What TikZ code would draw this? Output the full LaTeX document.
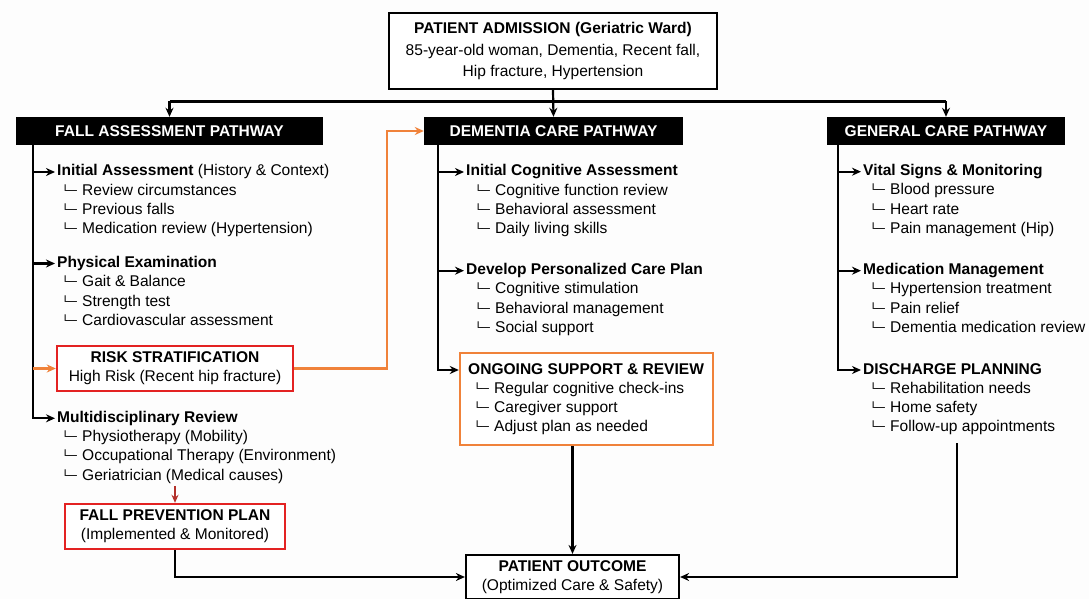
\documentclass[tikz,border=0pt]{standalone}
\usepackage{fontspec}
\setmainfont{Liberation Sans}
\newfontfamily\cornerfont{DejaVu Sans}
\usetikzlibrary{arrows.meta}
\definecolor{boxred}{HTML}{E32222}
\definecolor{linkorange}{HTML}{F0823A}
\definecolor{darkred}{HTML}{B3302A}
\definecolor{paper}{HTML}{FDFDFD}

% tree corner in front of each sub-item, fixed advance so the text lines up
\newcommand{\subcorner}{\makebox[17bp][l]{\kern-3.9bp\raisebox{1bp}{\scalebox{1}[0.8]{\cornerfont\fontsize{13}{13}\selectfont └─}}}}

\tikzset{
  every node/.style={font=\fontsize{15.6}{19}\selectfont, inner sep=2bp},
  head/.style={anchor=west, font=\fontsize{15.6}{19}\selectfont\bfseries,
               text height=11.5bp, text depth=3.5bp},
  subline/.style={anchor=west, text height=11.5bp, text depth=3.5bp},
  pathhead/.style={fill=black, text=white, font=\fontsize{15.6}{19}\selectfont\bfseries,
                   minimum height=28bp, inner sep=0},
  plainbox/.style={draw=black, line width=2.2bp, align=center, inner sep=0, fill=white},
  redbox/.style={draw=boxred, line width=2.4bp, align=center, inner sep=0, fill=white},
  conn/.style={line width=2.2bp, draw=black},
  arr/.style={conn, -{Stealth[length=9bp,width=8bp]}},
  oarr/.style={line width=2.2bp, draw=linkorange, -{Stealth[length=9bp,width=8bp]}},
  rarr/.style={line width=1.8bp, draw=darkred, -{Stealth[length=8bp,width=7bp]}},
}

\begin{document}
\begin{tikzpicture}[x=1bp, y=-1bp]
  \useasboundingbox (0,0) rectangle (1089,599);
  \fill[paper] (0,0) rectangle (1089,599);

  % admission
  \node[plainbox, minimum width=328bp, minimum height=76bp,
        font=\fontsize{15.6}{21.3}\selectfont] (adm) at (553,51)
    {\textbf{PATIENT ADMISSION (Geriatric Ward)}\\85-year-old woman, Dementia, Recent fall,\\Hip fracture, Hypertension};

  % pathway headers
  \node[pathhead, minimum width=307bp] (fall) at (169.5,131) {FALL ASSESSMENT PATHWAY};
  \node[pathhead, minimum width=259bp] (dem)  at (553.5,131) {DEMENTIA CARE PATHWAY};
  \node[pathhead, minimum width=238bp] (gen)  at (946,131)   {GENERAL CARE PATHWAY};

  % fall assessment column
  \node[head] (fa1) at (55,172) {Initial Assessment {\mdseries (History \& Context)}};
  \foreach \t [count=\i] in {Review circumstances, Previous falls, Medication review (Hypertension)}
    \node[subline] (fa1-\i) at (63,{172+19.3*\i}) {\subcorner\t};
  \node[head] (fa2) at (55,263.5) {Physical Examination};
  \foreach \t [count=\i] in {Gait \& Balance, Strength test, Cardiovascular assessment}
    \node[subline] (fa2-\i) at (63,{263.5+19.3*\i}) {\subcorner\t};
  \node[redbox, minimum width=236bp, minimum height=45bp] (risk) at (175,368.5)
    {\textbf{RISK STRATIFICATION}\\High Risk (Recent hip fracture)};
  \node[head] (fa4) at (55,418.3) {Multidisciplinary Review};
  \foreach \t [count=\i] in {Physiotherapy (Mobility), Occupational Therapy (Environment), Geriatrician (Medical causes)}
    \node[subline] (fa4-\i) at (63,{418.3+19.3*\i}) {\subcorner\t};
  \node[redbox, minimum width=220bp, minimum height=45bp] (fpp) at (175,526.5)
    {\textbf{FALL PREVENTION PLAN}\\(Implemented \& Monitored)};

  % dementia care column
  \node[head] (dh1) at (464,172) {Initial Cognitive Assessment};
  \foreach \t [count=\i] in {Cognitive function review, Behavioral assessment, Daily living skills}
    \node[subline] (dh1-\i) at (476,{172+19.3*\i}) {\subcorner\t};
  \node[head] (dh2) at (464,270.7) {Develop Personalized Care Plan};
  \foreach \t [count=\i] in {Cognitive stimulation, Behavioral management, Social support}
    \node[subline] (dh2-\i) at (476,{270.7+19.3*\i}) {\subcorner\t};
  \node[draw=linkorange, line width=2.4bp, minimum width=253bp, minimum height=92bp,
        inner sep=0, fill=white] (ong) at (586.5,399) {};
  \node[head] (ongt) at (466,370) {ONGOING SUPPORT \& REVIEW};
  \foreach \t [count=\i] in {Regular cognitive check-ins, Caregiver support, Adjust plan as needed}
    \node[subline] (ong-\i) at (475,{370+19.3*\i}) {\subcorner\t};

  % general care column
  \node[head] (gh1) at (861,171.7) {Vital Signs \& Monitoring};
  \foreach \t [count=\i] in {Blood pressure, Heart rate, Pain management (Hip)}
    \node[subline] (gh1-\i) at (871,{171.7+19.3*\i}) {\subcorner\t};
  \node[head] (gh2) at (861,270.7) {Medication Management};
  \foreach \t [count=\i] in {Hypertension treatment, Pain relief, Dementia medication review}
    \node[subline] (gh2-\i) at (871,{270.7+19.3*\i}) {\subcorner\t};
  \node[head] (gh3) at (861,370) {DISCHARGE PLANNING};
  \foreach \t [count=\i] in {Rehabilitation needs, Home safety, Follow-up appointments}
    \node[subline] (gh3-\i) at (871,{370+19.3*\i}) {\subcorner\t};

  % outcome
  \node[plainbox, minimum width=213bp, minimum height=44bp] (out) at (572.5,577)
    {\textbf{PATIENT OUTCOME}\\(Optimized Care \& Safety)};

  % distribution from admission to the three pathways
  \coordinate (split) at (553,101.5);
  \draw[conn] (split -| fall.north) -- (split -| gen.north);
  \draw[arr] (adm.south) -- (dem.north);
  \draw[arr] (split -| fall.north) -- (fall.north);
  \draw[arr] (split -| gen.north) -- (gen.north);

  % fall rail
  \coordinate (frail) at (33,0);
  \draw[arr] (fall.south -| frail) |- (fa4.west);
  \draw[arr] (fa1.west -| frail) -- (fa1.west);
  \draw[arr] (fa2.west -| frail) -- (fa2.west);
  \draw[oarr] (risk.west -| frail) -- (risk.west);
  \coordinate (obend) at (387,0);
  \draw[oarr] (risk.east) -| (obend |- dem.west) -- (dem.west);
  \draw[rarr] (fa4-3.south -| fpp.north) -- (fpp.north);
  \draw[arr] (fpp.south) |- (out.west);

  % dementia rail
  \coordinate (drail) at (438,0);
  \draw[arr] (dem.south -| drail) |- (ong.west |- ongt.west);
  \draw[arr] (dh1.west -| drail) -- (dh1.west);
  \draw[arr] (dh2.west -| drail) -- (dh2.west);
  \draw[arr] (ong.south -| out.north) -- (out.north);

  % general rail
  \coordinate (grail) at (838,0);
  \draw[arr] (gen.south -| grail) |- (gh3.west);
  \draw[arr] (gh1.west -| grail) -- (gh1.west);
  \draw[arr] (gh2.west -| grail) -- (gh2.west);
  \coordinate (gfree) at (957,443);
  \draw[arr] (gfree) |- (out.east);
\end{tikzpicture}
\end{document}
